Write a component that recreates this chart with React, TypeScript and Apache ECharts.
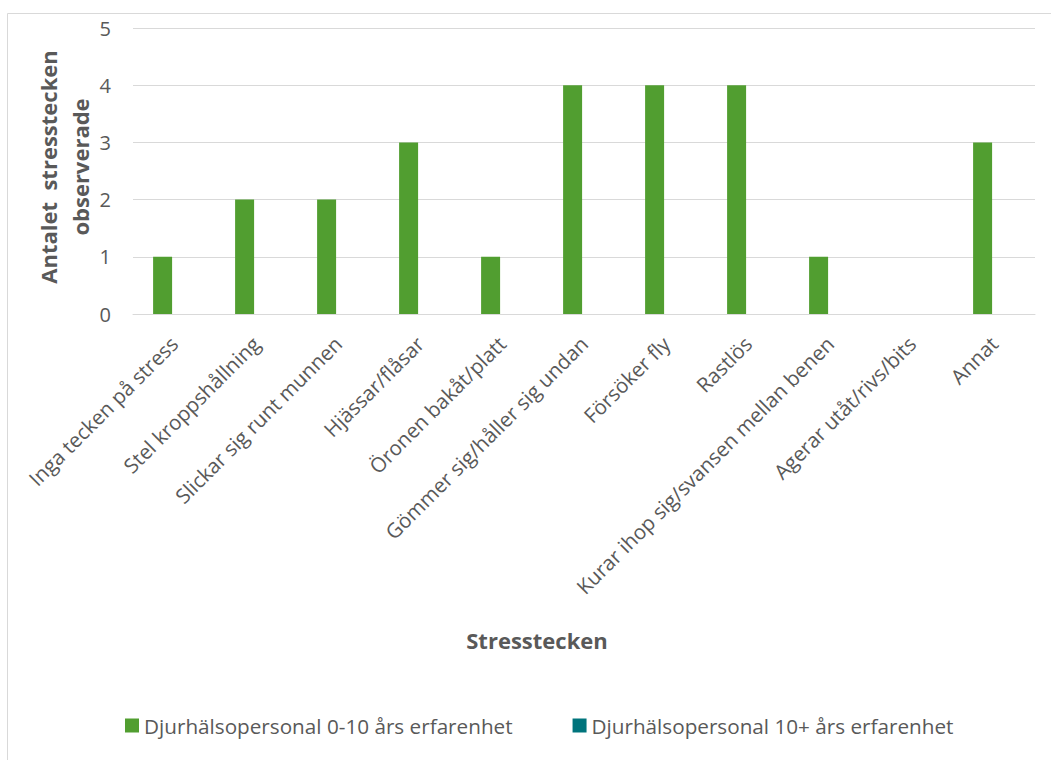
import React, { useEffect, useRef } from "react";
import * as echarts from "echarts";

// Stress signs observed, by category
const categories = [
  "Inga tecken på stress",
  "Stel kroppshållning",
  "Slickar sig runt munnen",
  "Hjässar/flåsar",
  "Öronen bakåt/platt",
  "Gömmer sig/håller sig undan",
  "Försöker fly",
  "Rastlös",
  "Kurar ihop sig/svansen mellan benen",
  "Agerar utåt/rivs/bits",
  "Annat",
];

const seriesNames = [
  "Djurhälsopersonal 0-10 års erfarenhet",
  "Djurhälsopersonal 10+ års erfarenhet",
];

const staffJunior = [1, 2, 2, 3, 1, 4, 4, 4, 1, 0, 3];
const staffSenior = [0, 0, 0, 0, 0, 0, 0, 0, 0, 0, 0];

const yTicks = [0, 1, 2, 3, 4, 5];

const xTitle = "Stresstecken";
const yTitle = "Antalet  stresstecken\nobserverade";

const GREEN = "#519E30";
const TEAL = "#00747C";
const TEXT = "#595959";
const GRID = "#D9D9D9";
const FONT = "'Open Sans', 'Noto Sans', sans-serif";

export default function App() {
  const ref = useRef<HTMLDivElement>(null);

  useEffect(() => {
    if (!ref.current) return;
    const chart = echarts.init(ref.current, null, { renderer: "svg" });
    chart.setOption({
      animation: false,
      backgroundColor: "#ffffff",
      textStyle: { fontFamily: FONT },
      grid: { left: 133, right: 16, top: 28, bottom: 446, containLabel: false },
      legend: {
        data: seriesNames,
        left: 120,
        top: 710,
        icon: "rect",
        itemWidth: 14,
        itemHeight: 14,
        itemGap: 60,
        textStyle: { color: TEXT, fontSize: 20.7, fontFamily: FONT },
      },
      xAxis: {
        type: "category",
        data: categories,
        axisLine: { show: true, lineStyle: { color: GRID, width: 1 } },
        axisTick: { show: false },
        axisLabel: {
          rotate: 45,
          interval: 0,
          color: TEXT,
          fontSize: 20.5,
          fontFamily: FONT,
          margin: 26,
        },
      },
      yAxis: {
        type: "value",
        min: yTicks[0],
        max: yTicks[yTicks.length - 1],
        interval: 1,
        axisLine: { show: false },
        axisTick: { show: false },
        splitLine: { lineStyle: { color: GRID, width: 1 } },
        axisLabel: { color: TEXT, fontSize: 20, fontFamily: FONT, margin: 22 },
      },
      series: [
        {
          name: seriesNames[0],
          type: "bar",
          data: staffJunior,
          barWidth: 19,
          barGap: "20%",
          itemStyle: { color: GREEN },
        },
        {
          name: seriesNames[1],
          type: "bar",
          data: staffSenior,
          barWidth: 19,
          barGap: "20%",
          itemStyle: { color: TEAL },
        },
      ],
      graphic: [
        {
          type: "rect",
          shape: { x: 7.5, y: 13.5, width: 1100, height: 800 },
          style: { fill: "none", stroke: GRID, lineWidth: 1 },
          silent: true,
        },
        {
          type: "text",
          x: 64,
          y: 167,
          rotation: Math.PI / 2,
          style: {
            text: yTitle,
            fill: TEXT,
            font: `bold 22px ${FONT}`,
            align: "center",
            verticalAlign: "middle",
            lineHeight: 32,
          },
        },
        {
          type: "text",
          x: 537,
          y: 640,
          style: {
            text: xTitle,
            fill: TEXT,
            font: `bold 22px ${FONT}`,
            align: "center",
            verticalAlign: "middle",
          },
        },
      ],
    });
    return () => chart.dispose();
  }, []);

  return (
    <div
      ref={ref}
      style={{ position: "fixed", left: 0, top: 0, width: 1051, height: 760 }}
    />
  );
}
